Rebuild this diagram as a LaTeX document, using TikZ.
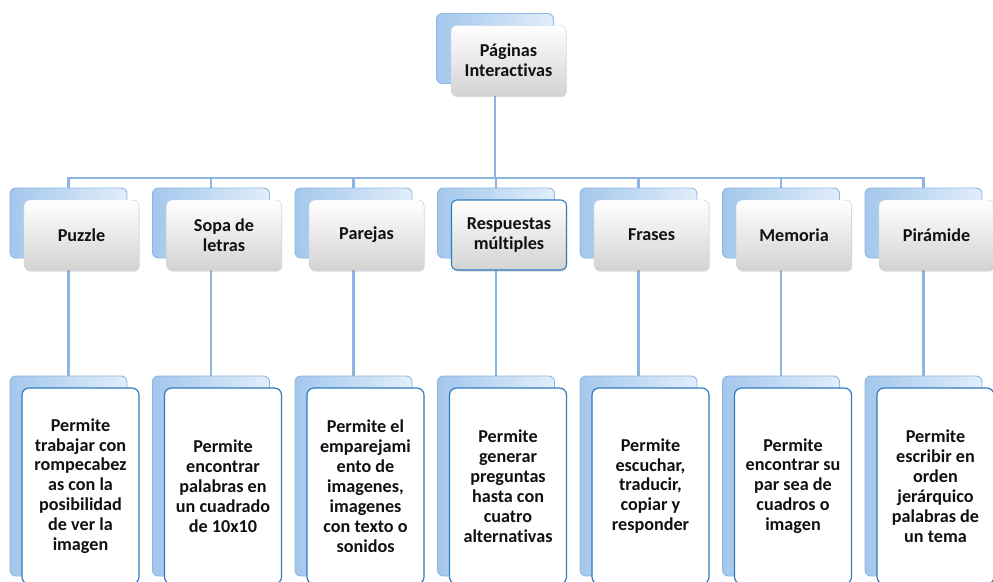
\documentclass[tikz,border=0pt]{standalone}
\usepackage{fontspec}
\setmainfont{Carlito}[Ligatures=NoCommon]
\usepackage{tikz}
\usetikzlibrary{positioning,backgrounds,shadows}
\definecolor{PagBack}{HTML}{A3C7EC}
\definecolor{PagBackTop}{HTML}{E2EEFA}
\definecolor{PagEdge}{HTML}{8DB7E4}
\definecolor{PagLink}{HTML}{8DB5E2}
\definecolor{PagGrey}{HTML}{D3D3D3}
\definecolor{PagFrame}{HTML}{C3D3E2}
\definecolor{PagBlue}{HTML}{2F7BC2}
\definecolor{PagInk}{HTML}{111111}

\begin{document}
\begin{tikzpicture}[
    x=0.03cm, y=-0.03cm,
    back/.style={
      draw=PagEdge,
      left color=PagBack,
      right color=PagBackTop,
      minimum width=3.51cm,
      minimum height=#1,
      rounded corners=5pt,
      line width=0.8pt
    },
    back/.default=2.1cm,
    front/.style={
      draw=PagFrame,
      top color=white,
      bottom color=PagGrey,
      minimum width=3.45cm,
      minimum height=2.1cm,
      rounded corners=5pt,
      drop shadow={opacity=0.3,shadow xshift=0.6pt,shadow yshift=-1.4pt},
      font=\bfseries\fontsize{15.5}{17}\selectfont,
      text=PagInk,
      align=center
    },
    leaf/.style={
      draw=PagBlue,
      fill=white,
      line width=1pt,
      minimum width=3.51cm,
      minimum height=5.88cm,
      rounded corners=6pt,
      font=\bfseries\fontsize{15.5}{17}\selectfont,
      text=PagInk,
      align=center
    },
    link/.style={
      draw=PagLink,
      line width=2pt
    }
  ]
  \useasboundingbox (0,0) rectangle (993,581);

  % Paginas Interactivas
  \node[back] (topb) at (495,48.5) {};
  \node[front] (top) at (508.5,60.5) {P\'aginas\\Interactivas};

  % Puzzle
  \node[back] (puzzleb) at (68.5,223) {};
  \node[front] (puzzle) at (81.5,235) {Puzzle};
  \node[back=6cm] (puzzledb) at (68.5,476) {};
  \node[leaf] (puzzled) at (80.5,486) {Permite\\trabajar con\\rompecabez\\as con la\\posibilidad\\de ver la\\imagen};

  % Sopa de letras
  \node[back] (sopab) at (211,223) {};
  \node[front] (sopa) at (224,235) {Sopa de\\letras};
  \node[back=6cm] (sopadb) at (211,476) {};
  \node[leaf] (sopad) at (223,486) {Permite\\encontrar\\palabras en\\un cuadrado\\de 10x10};

  % Parejas
  \node[back] (parejasb) at (353.5,223) {};
  \node[front] (parejas) at (366.5,235) {Parejas};
  \node[back=6cm] (parejasdb) at (353.5,476) {};
  \node[leaf] (parejasd) at (365.5,486) {Permite el\\emparejami\\ento de\\imagenes,\\imagenes\\con texto o\\sonidos};

  % Respuestas multiples
  \node[back] (respb) at (496,223) {};
  \node[front,draw=PagBlue,line width=0.9pt] (resp) at (509,235) {Respuestas\\m\'ultiples};
  \node[back=6cm] (respdb) at (496,476) {};
  \node[leaf] (respd) at (508,486) {Permite\\generar\\preguntas\\hasta con\\cuatro\\alternativas};

  % Frases
  \node[back] (frasesb) at (638.5,223) {};
  \node[front] (frases) at (651.5,235) {Frases};
  \node[back=6cm] (frasesdb) at (638.5,476) {};
  \node[leaf] (frasesd) at (650.5,486) {Permite\\escuchar,\\traducir,\\copiar y\\responder};

  % Memoria
  \node[back] (memoriab) at (781,223) {};
  \node[front] (memoria) at (794,235) {Memoria};
  \node[back=6cm] (memoriadb) at (781,476) {};
  \node[leaf] (memoriad) at (793,486) {Permite\\encontrar su\\par sea de\\cuadros o\\imagen};

  % Piramide
  \node[back] (piramideb) at (923.5,223) {};
  \node[front] (piramide) at (936.5,235) {Pir\'amide};
  \node[back=6cm] (piramidedb) at (923.5,476) {};
  \node[leaf] (piramided) at (935.5,486) {Permite\\escribir en\\orden\\jer\'arquico\\palabras de\\un tema};

  % Connectors
  \begin{scope}[on background layer]
    \draw[link] (topb.south) -- ++(0,94) -| (puzzleb.north);
    \draw[link] (topb.south) -- ++(0,94) -| (sopab.north);
    \draw[link] (topb.south) -- ++(0,94) -| (parejasb.north);
    \draw[link] (topb.south) -- ++(0,94) -| (respb.north);
    \draw[link] (topb.south) -- ++(0,94) -| (frasesb.north);
    \draw[link] (topb.south) -- ++(0,94) -| (memoriab.north);
    \draw[link] (topb.south) -- ++(0,94) -| (piramideb.north);
    \draw[link] (puzzleb.south) -- (puzzledb.north);
    \draw[link] (sopab.south) -- (sopadb.north);
    \draw[link] (parejasb.south) -- (parejasdb.north);
    \draw[link] (respb.south) -- (respdb.north);
    \draw[link] (frasesb.south) -- (frasesdb.north);
    \draw[link] (memoriab.south) -- (memoriadb.north);
    \draw[link] (piramideb.south) -- (piramidedb.north);
  \end{scope}

\end{tikzpicture}
\end{document}
